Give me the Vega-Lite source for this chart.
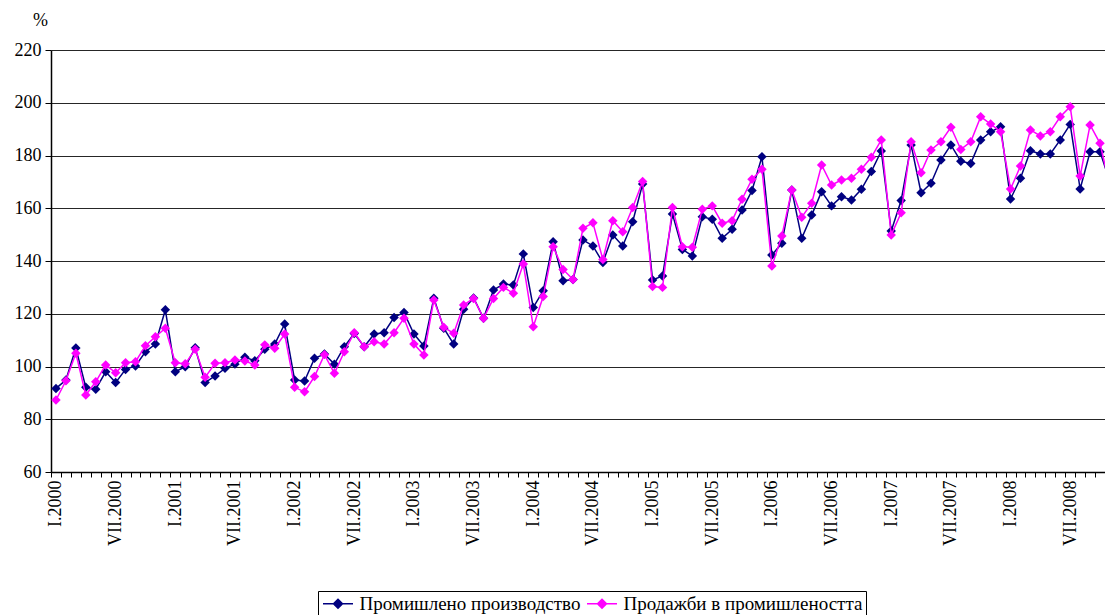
{
  "$schema": "https://vega.github.io/schema/vega-lite/v6.json",
  "width": 1054,
  "height": 422,
  "autosize": {"type": "none"},
  "padding": {"left": 51, "top": 50, "right": 0, "bottom": 143},
  "background": "white",
  "config": {"view": {"stroke": null}, "font": "Liberation Serif"},
  "data": {
    "values": [
      {"i":0,"s":"Промишлено производство","v":91.7},{"i":1,"s":"Промишлено производство","v":94.9},{"i":2,"s":"Промишлено производство","v":107.0},{"i":3,"s":"Промишлено производство","v":92.1},{"i":4,"s":"Промишлено производство","v":91.4},{"i":5,"s":"Промишлено производство","v":98.0},{"i":6,"s":"Промишлено производство","v":93.9},{"i":7,"s":"Промишлено производство","v":98.9},{"i":8,"s":"Промишлено производство","v":100.2},{"i":9,"s":"Промишлено производство","v":105.6},{"i":10,"s":"Промишлено производство","v":108.5},{"i":11,"s":"Промишлено производство","v":121.5},
      {"i":12,"s":"Промишлено производство","v":98.0},{"i":13,"s":"Промишлено производство","v":99.9},{"i":14,"s":"Промишлено производство","v":107.1},{"i":15,"s":"Промишлено производство","v":93.9},{"i":16,"s":"Промишлено производство","v":96.4},{"i":17,"s":"Промишлено производство","v":99.3},{"i":18,"s":"Промишлено производство","v":100.9},{"i":19,"s":"Промишлено производство","v":103.5},{"i":20,"s":"Промишлено производство","v":102.2},{"i":21,"s":"Промишлено производство","v":106.5},{"i":22,"s":"Промишлено производство","v":108.5},{"i":23,"s":"Промишлено производство","v":116.1},
      {"i":24,"s":"Промишлено производство","v":94.9},{"i":25,"s":"Промишлено производство","v":94.5},{"i":26,"s":"Промишлено производство","v":103.1},{"i":27,"s":"Промишлено производство","v":104.7},{"i":28,"s":"Промишлено производство","v":100.9},{"i":29,"s":"Промишлено производство","v":107.5},{"i":30,"s":"Промишлено производство","v":112.5},{"i":31,"s":"Промишлено производство","v":107.5},{"i":32,"s":"Промишлено производство","v":112.3},{"i":33,"s":"Промишлено производство","v":112.8},{"i":34,"s":"Промишлено производство","v":118.6},{"i":35,"s":"Промишлено производство","v":120.5},
      {"i":36,"s":"Промишлено производство","v":112.3},{"i":37,"s":"Промишлено производство","v":107.8},{"i":38,"s":"Промишлено производство","v":125.9},{"i":39,"s":"Промишлено производство","v":114.5},{"i":40,"s":"Промишлено производство","v":108.5},{"i":41,"s":"Промишлено производство","v":121.7},{"i":42,"s":"Промишлено производство","v":126.0},{"i":43,"s":"Промишлено производство","v":118.3},{"i":44,"s":"Промишлено производство","v":129.0},{"i":45,"s":"Промишлено производство","v":131.3},{"i":46,"s":"Промишлено производство","v":130.9},{"i":47,"s":"Промишлено производство","v":142.7},
      {"i":48,"s":"Промишлено производство","v":122.4},{"i":49,"s":"Промишлено производство","v":128.7},{"i":50,"s":"Промишлено производство","v":147.3},{"i":51,"s":"Промишлено производство","v":132.5},{"i":52,"s":"Промишлено производство","v":133.0},{"i":53,"s":"Промишлено производство","v":148.0},{"i":54,"s":"Промишлено производство","v":145.7},{"i":55,"s":"Промишлено производство","v":139.4},{"i":56,"s":"Промишлено производство","v":149.9},{"i":57,"s":"Промишлено производство","v":145.7},{"i":58,"s":"Промишлено производство","v":154.9},{"i":59,"s":"Промишлено производство","v":169.2},
      {"i":60,"s":"Промишлено производство","v":132.8},{"i":61,"s":"Промишлено производство","v":134.3},{"i":62,"s":"Промишлено производство","v":157.8},{"i":63,"s":"Промишлено производство","v":144.4},{"i":64,"s":"Промишлено производство","v":141.9},{"i":65,"s":"Промишлено производство","v":156.8},{"i":66,"s":"Промишлено производство","v":155.8},{"i":67,"s":"Промишлено производство","v":148.6},{"i":68,"s":"Промишлено производство","v":152.0},{"i":69,"s":"Промишлено производство","v":159.3},{"i":70,"s":"Промишлено производство","v":166.7},{"i":71,"s":"Промишлено производство","v":179.5},
      {"i":72,"s":"Промишлено производство","v":142.3},{"i":73,"s":"Промишлено производство","v":146.7},{"i":74,"s":"Промишлено производство","v":166.9},{"i":75,"s":"Промишлено производство","v":148.6},{"i":76,"s":"Промишлено производство","v":157.4},{"i":77,"s":"Промишлено производство","v":166.3},{"i":78,"s":"Промишлено производство","v":160.9},{"i":79,"s":"Промишлено производство","v":164.4},{"i":80,"s":"Промишлено производство","v":163.1},{"i":81,"s":"Промишлено производство","v":167.2},{"i":82,"s":"Промишлено производство","v":173.9},{"i":83,"s":"Промишлено производство","v":181.7},
      {"i":84,"s":"Промишлено производство","v":151.4},{"i":85,"s":"Промишлено производство","v":162.9},{"i":86,"s":"Промишлено производство","v":184.0},{"i":87,"s":"Промишлено производство","v":165.9},{"i":88,"s":"Промишлено производство","v":169.5},{"i":89,"s":"Промишлено производство","v":178.3},{"i":90,"s":"Промишлено производство","v":184.0},{"i":91,"s":"Промишлено производство","v":177.8},{"i":92,"s":"Промишлено производство","v":177.0},{"i":93,"s":"Промишлено производство","v":185.9},{"i":94,"s":"Промишлено производство","v":189.0},{"i":95,"s":"Промишлено производство","v":190.9},
      {"i":96,"s":"Промишлено производство","v":163.5},{"i":97,"s":"Промишлено производство","v":171.4},{"i":98,"s":"Промишлено производство","v":181.8},{"i":99,"s":"Промишлено производство","v":180.6},{"i":100,"s":"Промишлено производство","v":180.6},{"i":101,"s":"Промишлено производство","v":185.9},{"i":102,"s":"Промишлено производство","v":191.8},{"i":103,"s":"Промишлено производство","v":167.3},{"i":104,"s":"Промишлено производство","v":181.4},{"i":105,"s":"Промишлено производство","v":181.4},{"i":106,"s":"Промишлено производство","v":170.0},
      {"i":0,"s":"Продажби в промишлеността","v":87.3},{"i":1,"s":"Продажби в промишлеността","v":94.6},{"i":2,"s":"Продажби в промишлеността","v":105.0},{"i":3,"s":"Продажби в промишлеността","v":89.2},{"i":4,"s":"Продажби в промишлеността","v":94.2},{"i":5,"s":"Продажби в промишлеността","v":100.6},{"i":6,"s":"Продажби в промишлеността","v":97.6},{"i":7,"s":"Продажби в промишлеността","v":101.4},{"i":8,"s":"Продажби в промишлеността","v":101.8},{"i":9,"s":"Продажби в промишлеността","v":107.9},{"i":10,"s":"Продажби в промишлеността","v":111.3},{"i":11,"s":"Продажби в промишлеността","v":114.5},
      {"i":12,"s":"Продажби в промишлеността","v":101.4},{"i":13,"s":"Продажби в промишлеността","v":101.0},{"i":14,"s":"Продажби в промишлеността","v":106.5},{"i":15,"s":"Продажби в промишлеността","v":95.9},{"i":16,"s":"Продажби в промишлеността","v":101.2},{"i":17,"s":"Продажби в промишлеността","v":101.4},{"i":18,"s":"Продажби в промишлеността","v":102.5},{"i":19,"s":"Продажби в промишлеността","v":102.1},{"i":20,"s":"Продажби в промишлеността","v":100.6},{"i":21,"s":"Продажби в промишлеността","v":108.2},{"i":22,"s":"Продажби в промишлеността","v":106.9},{"i":23,"s":"Продажби в промишлеността","v":112.3},
      {"i":24,"s":"Продажби в промишлеността","v":92.1},{"i":25,"s":"Продажби в промишлеността","v":90.4},{"i":26,"s":"Продажби в промишлеността","v":96.2},{"i":27,"s":"Продажби в промишлеността","v":104.5},{"i":28,"s":"Продажби в промишлеността","v":97.4},{"i":29,"s":"Продажби в промишлеността","v":105.6},{"i":30,"s":"Продажби в промишлеността","v":112.8},{"i":31,"s":"Продажби в промишлеността","v":107.5},{"i":32,"s":"Продажби в промишлеността","v":109.4},{"i":33,"s":"Продажби в промишлеността","v":108.5},{"i":34,"s":"Продажби в промишлеността","v":112.8},{"i":35,"s":"Продажби в промишлеността","v":118.3},
      {"i":36,"s":"Продажби в промишлеността","v":108.5},{"i":37,"s":"Продажби в промишлеността","v":104.4},{"i":38,"s":"Продажби в промишлеността","v":125.2},{"i":39,"s":"Продажби в промишлеността","v":114.9},{"i":40,"s":"Продажби в промишлеността","v":112.6},{"i":41,"s":"Продажби в промишлеността","v":123.3},{"i":42,"s":"Продажби в промишлеността","v":125.8},{"i":43,"s":"Продажби в промишлеността","v":118.3},{"i":44,"s":"Продажби в промишлеността","v":125.8},{"i":45,"s":"Продажби в промишлеността","v":130.0},{"i":46,"s":"Продажби в промишлеността","v":127.8},{"i":47,"s":"Продажби в промишлеността","v":138.9},
      {"i":48,"s":"Продажби в промишлеността","v":115.1},{"i":49,"s":"Продажби в промишлеността","v":126.5},{"i":50,"s":"Продажби в промишлеността","v":145.4},{"i":51,"s":"Продажби в промишлеността","v":136.8},{"i":52,"s":"Продажби в промишлеността","v":133.0},{"i":53,"s":"Продажби в промишлеността","v":152.4},{"i":54,"s":"Продажби в промишлеността","v":154.5},{"i":55,"s":"Продажби в промишлеността","v":140.6},{"i":56,"s":"Продажби в промишлеността","v":155.3},{"i":57,"s":"Продажби в промишлеността","v":151.1},{"i":58,"s":"Продажби в промишлеността","v":160.3},{"i":59,"s":"Продажби в промишлеността","v":170.1},
      {"i":60,"s":"Продажби в промишлеността","v":130.3},{"i":61,"s":"Продажби в промишлеността","v":130.0},{"i":62,"s":"Продажби в промишлеността","v":160.3},{"i":63,"s":"Продажби в промишлеността","v":145.4},{"i":64,"s":"Продажби в промишлеността","v":145.2},{"i":65,"s":"Продажби в промишлеността","v":159.6},{"i":66,"s":"Продажби в промишлеността","v":160.9},{"i":67,"s":"Продажби в промишлеността","v":154.3},{"i":68,"s":"Продажби в промишлеността","v":155.3},{"i":69,"s":"Продажби в промишлеността","v":163.4},{"i":70,"s":"Продажби в промишлеността","v":171.0},{"i":71,"s":"Продажби в промишлеността","v":174.8},
      {"i":72,"s":"Продажби в промишлеността","v":138.1},{"i":73,"s":"Продажби в промишлеността","v":149.5},{"i":74,"s":"Продажби в промишлеността","v":166.9},{"i":75,"s":"Продажби в промишлеността","v":156.6},{"i":76,"s":"Продажби в промишлеността","v":161.9},{"i":77,"s":"Продажби в промишлеността","v":176.4},{"i":78,"s":"Продажби в промишлеността","v":168.8},{"i":79,"s":"Продажби в промишлеността","v":170.7},{"i":80,"s":"Продажби в промишлеността","v":171.4},{"i":81,"s":"Продажби в промишлеността","v":174.8},{"i":82,"s":"Продажби в промишлеността","v":179.3},{"i":83,"s":"Продажби в промишлеността","v":185.9},
      {"i":84,"s":"Продажби в промишлеността","v":149.9},{"i":85,"s":"Продажби в промишлеността","v":158.3},{"i":86,"s":"Продажби в промишлеността","v":185.2},{"i":87,"s":"Продажби в промишлеността","v":173.5},{"i":88,"s":"Продажби в промишлеността","v":182.1},{"i":89,"s":"Продажби в промишлеността","v":185.2},{"i":90,"s":"Продажби в промишлеността","v":190.7},{"i":91,"s":"Продажби в промишлеността","v":182.3},{"i":92,"s":"Продажби в промишлеността","v":185.2},{"i":93,"s":"Продажби в промишлеността","v":194.7},{"i":94,"s":"Продажби в промишлеността","v":191.9},{"i":95,"s":"Продажби в промишлеността","v":189.0},
      {"i":96,"s":"Продажби в промишлеността","v":167.3},{"i":97,"s":"Продажби в промишлеността","v":176.0},{"i":98,"s":"Продажби в промишлеността","v":189.7},{"i":99,"s":"Продажби в промишлеността","v":187.4},{"i":100,"s":"Продажби в промишлеността","v":189.0},{"i":101,"s":"Продажби в промишлеността","v":194.7},{"i":102,"s":"Продажби в промишлеността","v":198.5},{"i":103,"s":"Продажби в промишлеността","v":172.2},{"i":104,"s":"Продажби в промишлеността","v":191.6},{"i":105,"s":"Продажби в промишлеността","v":184.6},{"i":106,"s":"Продажби в промишлеността","v":168.0}
    ]
  },
  "encoding": {
    "x": {
      "field": "i",
      "type": "quantitative",
      "scale": {"domain": [-0.5, 105.5], "nice": false, "zero": false},
      "axis": {
        "title": null,
        "grid": false,
        "values": [0,1,2,3,4,5,6,7,8,9,10,11,12,13,14,15,16,17,18,19,20,21,22,23,24,25,26,27,28,29,30,31,32,33,34,35,36,37,38,39,40,41,42,43,44,45,46,47,48,49,50,51,52,53,54,55,56,57,58,59,60,61,62,63,64,65,66,67,68,69,70,71,72,73,74,75,76,77,78,79,80,81,82,83,84,85,86,87,88,89,90,91,92,93,94,95,96,97,98,99,100,101,102,103,104,105],
        "labelExpr": "datum.value % 6 == 0 ? (datum.value % 12 == 0 ? 'I.' : 'VII.') + (2000 + floor(datum.value / 12)) : ''",
        "tickOffset": -4.97,
        "labelOffset": 4.97,
        "labelAngle": -90,
        "labelAlign": "right",
        "labelBaseline": "middle",
        "labelOverlap": false,
        "labelFlush": false,
        "labelBound": false,
        "labelPadding": 3,
        "labelFont": "Liberation Serif",
        "labelFontSize": 18,
        "labelColor": "#000000",
        "tickSize": 5,
        "tickColor": "#000000",
        "domainColor": "#000000",
        "domainWidth": 1.5
      }
    },
    "y": {
      "field": "v",
      "type": "quantitative",
      "scale": {"domain": [60, 220], "nice": false, "zero": false},
      "axis": {
        "title": "%",
        "titleAngle": 0,
        "titleX": -11,
        "titleY": -30,
        "titleAlign": "center",
        "titleBaseline": "middle",
        "titleFont": "Liberation Serif",
        "titleFontSize": 18,
        "titleFontWeight": "normal",
        "titleColor": "#000000",
        "values": [60, 80, 100, 120, 140, 160, 180, 200, 220],
        "labelFont": "Liberation Serif",
        "labelFontSize": 18,
        "labelColor": "#000000",
        "labelPadding": 4,
        "tickSize": 6,
        "tickColor": "#000000",
        "domainColor": "#000000",
        "domainWidth": 1.5,
        "grid": true,
        "gridColor": "#000000",
        "gridWidth": 1,
        "gridOpacity": 0.85
      }
    },
    "color": {
      "field": "s",
      "type": "nominal",
      "scale": {
        "domain": ["Промишлено производство", "Продажби в промишлеността"],
        "range": ["#000080", "#FF00FF"]
      },
      "legend": {
        "title": null,
        "orient": "none",
        "legendX": 267,
        "legendY": 541,
        "direction": "horizontal",
        "strokeColor": "#000000",
        "fillColor": "#ffffff",
        "padding": 3,
        "labelFont": "Liberation Serif",
        "labelFontSize": 19,
        "labelColor": "#000000",
        "labelLimit": 500,
        "labelOffset": 12,
        "symbolOffset": 7.5,
        "columnPadding": 3,
        "symbolType": "M-2,0H2M0,-0.6L0.6,0L0,0.6L-0.6,0Z",
        "symbolSize": 225,
        "symbolStrokeWidth": 1.5,
        "encode": {
          "symbols": {
            "update": {
              "fill": {"scale": "color", "field": "value"},
              "stroke": {"scale": "color", "field": "value"}
            }
          }
        }
      }
    }
  },
  "layer": [
    {
      "transform": [{"filter": "datum.s == 'Промишлено производство'"}],
      "mark": {"type": "line", "strokeWidth": 1.5, "clip": true, "point": {"shape": "diamond", "size": 90, "filled": true, "opacity": 1}}
    },
    {
      "transform": [{"filter": "datum.s == 'Продажби в промишлеността'"}],
      "mark": {"type": "line", "strokeWidth": 1.5, "clip": true, "point": {"shape": "diamond", "size": 90, "filled": true, "opacity": 1}}
    }
  ]
}
